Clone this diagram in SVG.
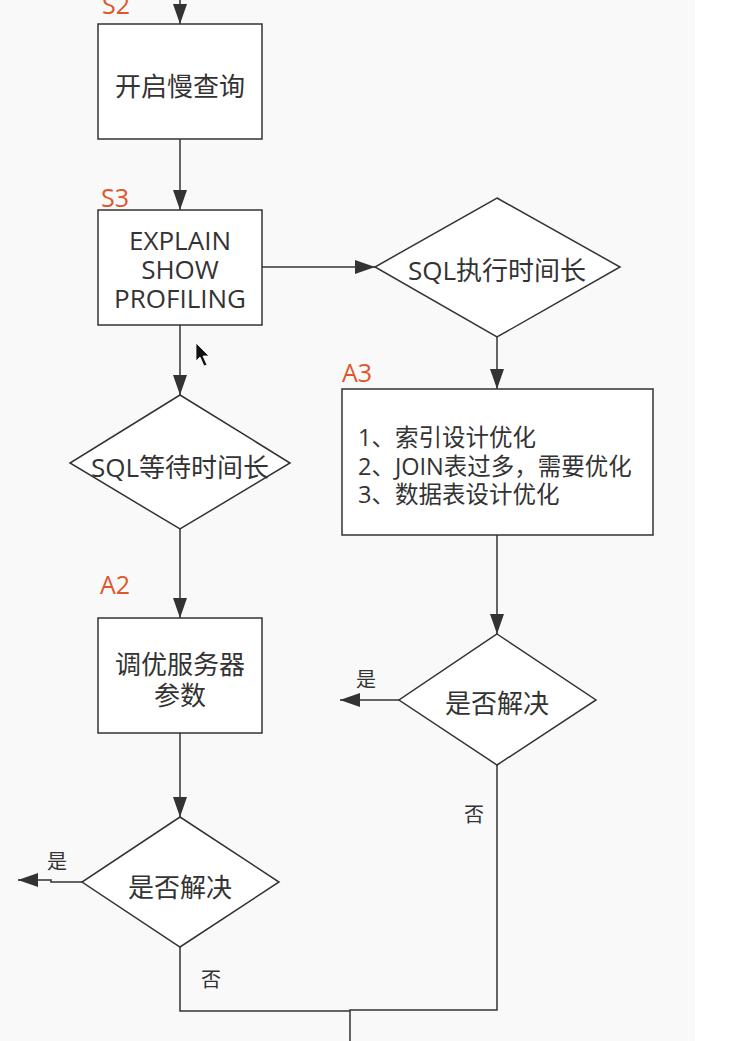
<svg xmlns="http://www.w3.org/2000/svg" width="737" height="1041" viewBox="0 0 737 1041">
<style>
.bg{fill:#f9f9f9}
.box{fill:#ffffff;stroke:#333333;stroke-width:1.5}
.ln{fill:none;stroke:#333333;stroke-width:1.5}
.t{font-family:"Open Sans","Noto Sans CJK SC",sans-serif;fill:#333333;font-size:26px;text-anchor:middle}
.tl{font-family:"Open Sans","Noto Sans CJK SC",sans-serif;fill:#333333;font-size:23.5px}
.s{font-family:"Noto Sans CJK SC",sans-serif;fill:#333333;font-size:20px;text-anchor:middle}
.lab{font-family:"Open Sans","Noto Sans CJK SC",sans-serif;fill:#e0552c;font-size:25px}
</style>
<defs>
<marker id="ar2" viewBox="0 0 20 14" refX="20" refY="7" markerWidth="20" markerHeight="14" markerUnits="userSpaceOnUse" orient="auto">
<path d="M0,0 L20,7 L0,14 Z" fill="#333333"/>
</marker>
</defs>
<rect class="bg" x="0" y="0" width="695" height="1041"/>
<rect x="695" y="0" width="42" height="1041" fill="#ffffff"/>
<g id="connectors">
<path class="ln" d="M180,0 V24" marker-end="url(#ar2)"/>
<path class="ln" d="M180,139 V210" marker-end="url(#ar2)"/>
<path class="ln" d="M262,267 H375" marker-end="url(#ar2)"/>
<path class="ln" d="M180,325 V395" marker-end="url(#ar2)"/>
<path class="ln" d="M497,337 V389" marker-end="url(#ar2)"/>
<path class="ln" d="M180,529 V618" marker-end="url(#ar2)"/>
<path class="ln" d="M497,535 V634" marker-end="url(#ar2)"/>
<path class="ln" d="M399,700 H340" marker-end="url(#ar2)"/>
<path class="ln" d="M180,733 V817" marker-end="url(#ar2)"/>
<path class="ln" d="M82,882 H51 V880 H18" marker-end="url(#ar2)"/>
<path class="ln" d="M497,765 V1010 H350 V1041"/>
<path class="ln" d="M180,947 V1011 H350"/>
</g>
<g id="s2">
<text class="lab" x="102" y="14">S2</text>
<rect class="box" x="98" y="24" width="164" height="115"/>
<text class="t" x="180" y="96">开启慢查询</text>
</g>
<g id="s3">
<text class="lab" x="101" y="207">S3</text>
<rect class="box" x="98" y="210" width="164" height="115"/>
<text class="t" x="180" y="250">EXPLAIN</text>
<text class="t" x="180" y="279">SHOW</text>
<text class="t" x="180" y="308">PROFILING</text>
</g>
<g id="exec-long">
<polygon class="box" points="497,198 620,267 497,337 375,267"/>
<text class="t" x="497" y="280">SQL执行时间长</text>
</g>
<g id="a3">
<text class="lab" x="342" y="382">A3</text>
<rect class="box" x="342" y="389" width="311" height="146"/>
<text class="tl" x="358" y="446">1、索引设计优化</text>
<text class="tl" x="358" y="475">2、JOIN表过多，需要优化</text>
<text class="tl" x="358" y="503">3、数据表设计优化</text>
</g>
<g id="wait-long">
<polygon class="box" points="180,395 290,463 180,529 70,463"/>
<text class="t" x="180" y="477">SQL等待时间长</text>
</g>
<g id="a2">
<text class="lab" x="100" y="594">A2</text>
<rect class="box" x="98" y="618" width="164" height="115"/>
<text class="t" x="180" y="674">调优服务器</text>
<text class="t" x="180" y="705">参数</text>
</g>
<g id="solved-right">
<polygon class="box" points="497,634 596,700 497,765 399,700"/>
<text class="t" x="497" y="713">是否解决</text>
<text class="s" x="366" y="687">是</text>
<text class="s" x="474" y="822">否</text>
</g>
<g id="solved-left">
<polygon class="box" points="180,817 279,882 180,947 82,882"/>
<text class="t" x="180" y="897">是否解决</text>
<text class="s" x="57" y="869">是</text>
<text class="s" x="211" y="987">否</text>
</g>
<path d="M196,343 L196,361 L200,357 L204,366 L207,365 L203,356 L209,356 Z" fill="#111111" stroke="#ffffff" stroke-width="0.8"/>
</svg>
